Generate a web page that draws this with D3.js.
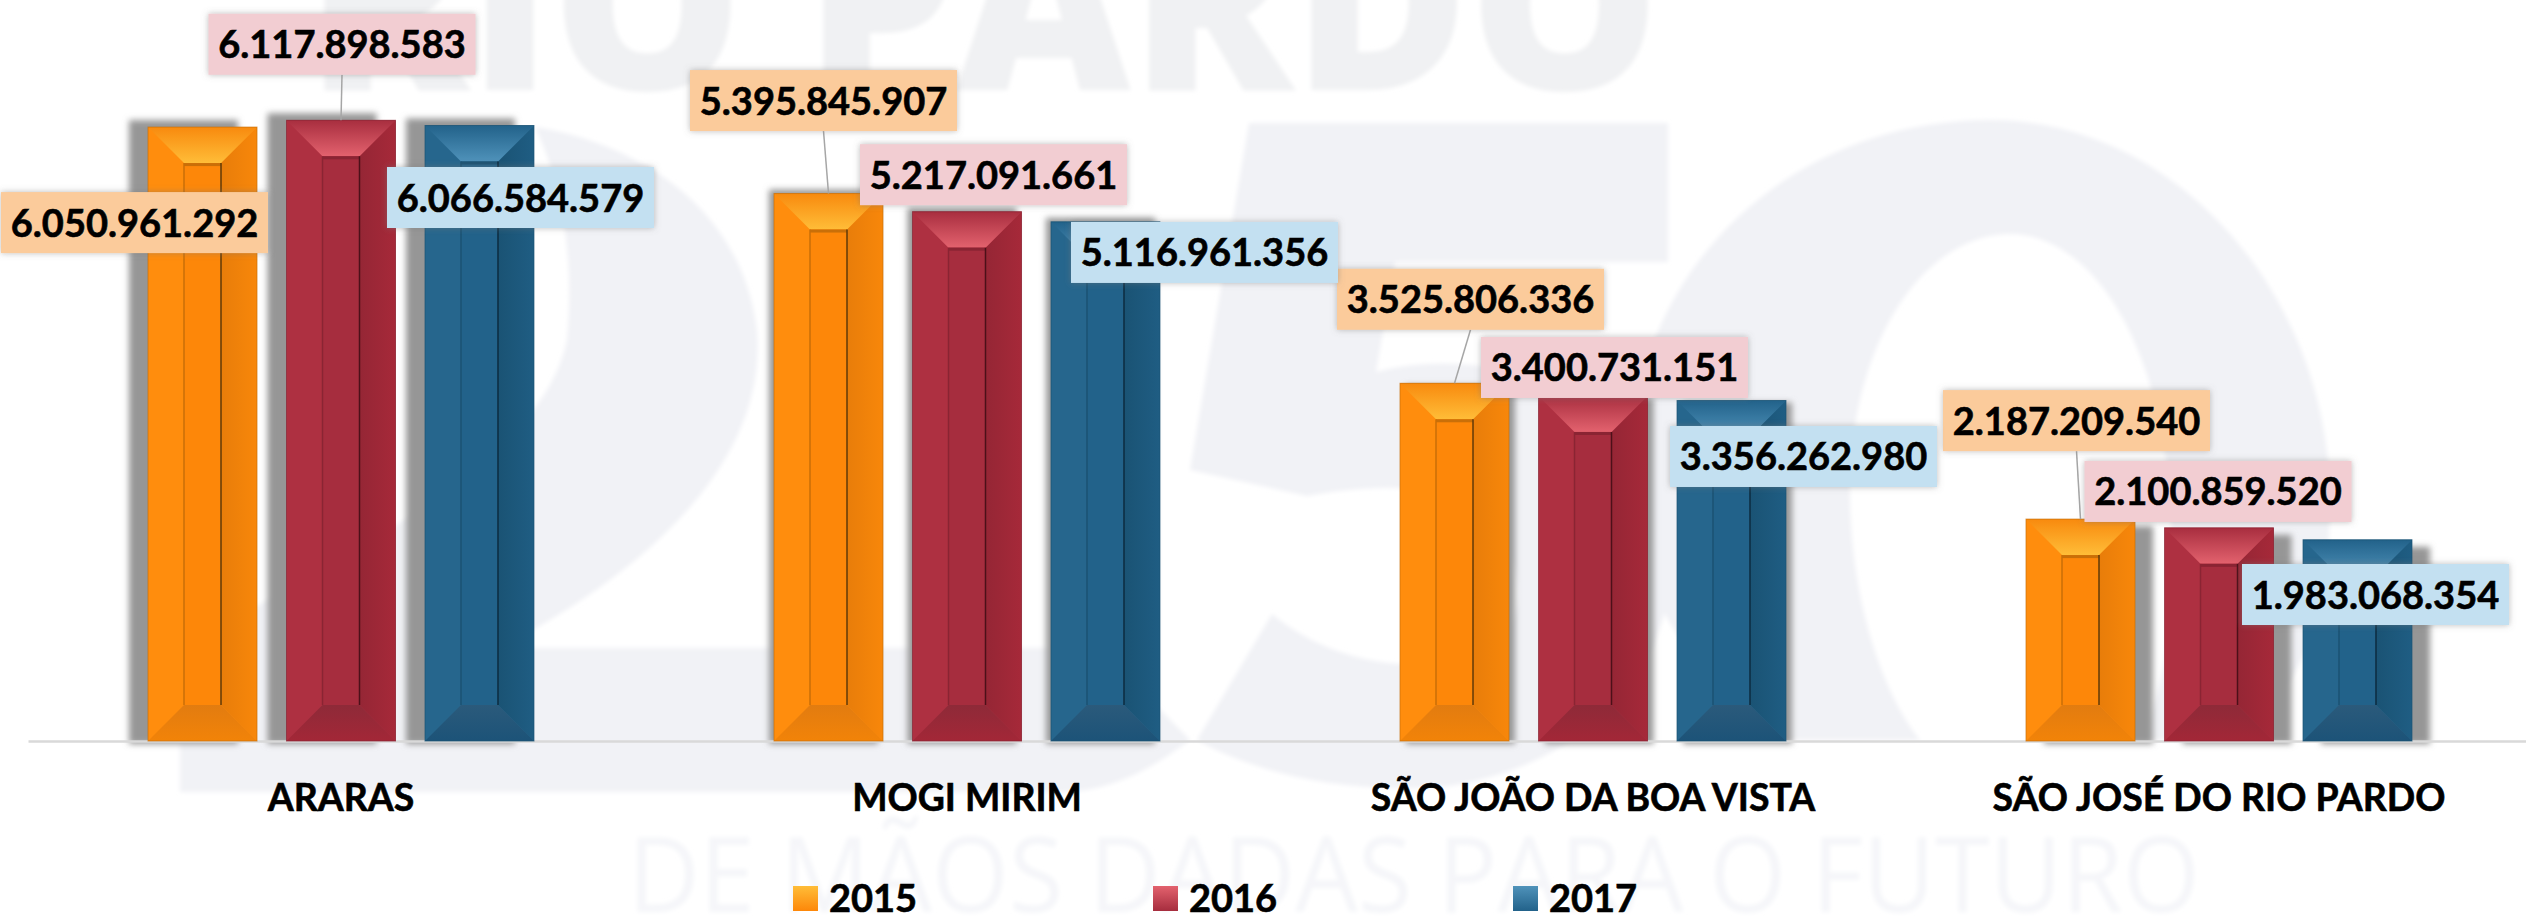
<!DOCTYPE html>
<html>
<head>
<meta charset="utf-8">
<script src="https://cdn.jsdelivr.net/npm/d3@7"></script>
<style>
    html, body { margin: 0; padding: 0; background: #fff; overflow: hidden; }
    svg { display: block; }
    text { font-family: Lato, "Open Sans", sans-serif; font-weight: 700; fill: #000; }
    .mark-text { font-family: "Open Sans", sans-serif; }
    .heavy { stroke: #000; stroke-width: 0.6px; }
</style>
</head>
<body>
<div id="chart"></div>
<script>
// values
var categories = ["ARARAS", "MOGI MIRIM", "SÃO JOÃO DA BOA VISTA", "SÃO JOSÉ DO RIO PARDO"];
var years = ["2015", "2016", "2017"];
var values2015 = [6050961292, 5395845907, 3525806336, 2187209540];
var values2016 = [6117898583, 5217091661, 3400731151, 2100859520];
var values2017 = [6066584579, 5116961356, 3356262980, 1983068354];

var width = 2526, height = 916;
var baseline = 741;
var bevel = 36;
var fontSize = 38;

// label boxes were placed by hand in the original, so these are
// nudges from the top centre of each bar: [dx, dy, has leader line]
var labelNudges = {
    "2015": [[-68, 95.5, 0], [-5, -93, 1], [16, -84, 1], [-4, -98.5, 1]],
    "2016": [[1, -76, 1], [26.5, -37, 0], [21.5, -28.5, 0], [-1, -36.4, 0]],
    "2017": [[41, 72, 0], [99, 30.6, 0], [72, 56, 0], [18, 54.7, 0]]
};

// shadow falls away from the middle of the picture
var shadowDx = [-19, -5, 6, 18];
var shadowDy = [-7, -4, 2, 7];

var colors = {
    "2015": { left: "#ff8d0d", mid: "#fd8709", rightA: "#e87d0a", rightB: "#f8870a", topA: "#f88a0e", topB: "#ffbd38", botA: "#e27c10", botB: "#f28308", edge: "#5f3a08", soft: "#c96f08", label: "#fbcb9b" },
    "2016": { left: "#ae3041", mid: "#a62d3e", rightA: "#952635", rightB: "#a62939", topA: "#a82e3f", topB: "#e3626e", botA: "#8e2a38", botB: "#a32737", edge: "#4c1019", soft: "#8a2433", label: "#f2cdd2" },
    "2017": { left: "#26668d", mid: "#22628a", rightA: "#1a5374", rightB: "#1f5d83", topA: "#22628a", topB: "#4f92ba", botA: "#2b5a7b", botB: "#1c5378", edge: "#0d2c40", soft: "#1b5273", label: "#c3e0f1" }
};

var seriesValues = { "2015": values2015, "2016": values2016, "2017": values2017 };

var svg = d3.select("#chart").append("svg")
    .attr("width", width)
    .attr("height", height);

var defs = svg.append("defs");

defs.append("filter").attr("id", "blur-shadow")
    .attr("x", "-30%").attr("y", "-10%").attr("width", "160%").attr("height", "120%")
    .append("feGaussianBlur").attr("stdDeviation", 3);

defs.append("filter").attr("id", "soft")
    .append("feGaussianBlur").attr("stdDeviation", 2);

var boxShadow = defs.append("filter").attr("id", "box-shadow")
    .attr("x", "-5%").attr("y", "-20%").attr("width", "110%").attr("height", "140%");
boxShadow.append("feDropShadow")
    .attr("dx", 0).attr("dy", 0).attr("stdDeviation", 3)
    .attr("flood-color", "#777").attr("flood-opacity", 0.5);

function addGradient(id, horizontal, a, b) {
    var g = defs.append("linearGradient").attr("id", id)
        .attr("x1", 0).attr("y1", 0)
        .attr("x2", horizontal ? 1 : 0).attr("y2", horizontal ? 0 : 1);
    g.append("stop").attr("offset", "0%").attr("stop-color", a);
    g.append("stop").attr("offset", "100%").attr("stop-color", b);
}

years.forEach(function(yr) {
    var c = colors[yr];
    addGradient("top" + yr, false, c.topA, c.topB);
    addGradient("bot" + yr, false, c.botA, c.botB);
    addGradient("right" + yr, true, c.rightA, c.rightB);
    addGradient("swatch" + yr, false, c.topB, c.mid);
});

// pale logo behind the chart
var mark = svg.append("g").attr("filter", "url(#soft)");
var markFill = "#f1f2f6";

mark.append("text").attr("class", "mark-text")
    .attr("x", 306).attr("y", 90)
    .attr("textLength", 1354).attr("lengthAdjust", "spacingAndGlyphs")
    .style("font-size", "240px").style("font-weight", 800).style("fill", "#f0f1f3")
    .text("RIO PARDO");

mark.append("text").attr("class", "mark-text")
    .attr("x", 628).attr("y", 912)
    .attr("textLength", 1572).attr("lengthAdjust", "spacingAndGlyphs")
    .style("font-size", "105px").style("font-weight", 400).style("fill", "#f5f6f9")
    .text("DE MÃOS DADAS PARA O FUTURO");

var markShapes = [
    // the 2
    "M535 127 C620 140 740 195 757 330 C768 460 650 570 500 648 L1100 648 L1190 740 C1150 770 1110 792 1060 792 L180 792 L180 650 C330 560 540 470 567 340 C575 250 560 180 535 127 Z",
    // the 5
    "M1249 123 L1668 123 L1668 262 L1395 262 L1376 372 C1500 340 1640 400 1668 520 C1690 640 1610 760 1450 786 C1340 796 1250 770 1197 740 L1272 614 C1340 670 1440 680 1500 640 C1545 590 1500 500 1420 490 C1380 485 1340 490 1307 496 L1190 470 Z",
    // the 0, drawn as a ring
    "M1990 120 C2180 120 2330 300 2330 500 C2330 640 2290 700 2230 740 L2140 740 C2170 680 2175 590 2170 500 C2160 340 2090 234 2010 234 C1930 234 1855 330 1850 480 C1848 590 1880 690 1920 740 L1780 740 C1700 680 1630 600 1630 470 C1630 270 1790 120 1990 120 Z"
];

mark.selectAll("path.shape")
    .data(markShapes)
    .enter()
    .append("path")
    .attr("class", "shape")
    .attr("d", function(d) { return d; })
    .attr("fill", markFill);

// scales
var x0 = d3.scaleBand()
    .domain(categories)
    .range([28, 2532]);

var x1 = d3.scaleBand()
    .domain(years)
    .range([0, x0.bandwidth()])
    .paddingInner(0.213)
    .paddingOuter(0.8665);

var y = d3.scaleLinear()
    .domain([0, 7000000000])
    .range([baseline, baseline - 710.2]);

var fmt = d3.formatLocale({ decimal: ",", thousands: ".", grouping: [3], currency: ["", ""] }).format(",d");

// one flat row per bar
var rows = [];
years.forEach(function(yr) {
    categories.forEach(function(cat, i) {
        rows.push({ year: yr, cat: cat, idx: i, value: seriesValues[yr][i] });
    });
});

function barX(d) { return x0(d.cat) + x1(d.year); }

// shadows go under every bar
svg.append("g").selectAll("rect")
    .data(rows)
    .enter()
    .append("rect")
    .attr("x", function(d) { return barX(d) + shadowDx[d.idx]; })
    .attr("y", function(d) { return y(d.value) + shadowDy[d.idx]; })
    .attr("width", x1.bandwidth())
    .attr("height", function(d) { return baseline + 3 - y(d.value) - shadowDy[d.idx]; })
    .attr("fill", "#969696")
    .attr("filter", "url(#blur-shadow)");

// category axis, its domain line is the baseline
var axis = svg.append("g")
    .attr("transform", "translate(0," + baseline + ")")
    .call(d3.axisBottom(x0).tickSize(0).tickPadding(43));

axis.select(".domain").attr("stroke", "#d9d9d9").attr("stroke-width", 2.5);
axis.selectAll("text")
    .attr("class", "heavy")
    .style("font-size", "37.4px")
    .style("font-family", "Lato")
    .style("font-weight", 700)
    .attr("fill", "#000");

// bevelled bars
var bars = svg.append("g").selectAll("g")
    .data(rows)
    .enter()
    .append("g")
    .attr("transform", function(d) { return "translate(" + barX(d) + "," + y(d.value) + ")"; });

bars.each(function(d) {
    var g = d3.select(this);
    var c = colors[d.year];
    var w = x1.bandwidth();
    var h = baseline - y(d.value);

    g.append("rect").attr("width", w).attr("height", h).attr("fill", c.left);

    // right face
    g.append("path")
        .attr("d", "M" + (w - bevel) + " " + bevel + "L" + w + " 0L" + w + " " + h + "L" + (w - bevel) + " " + (h - bevel) + "Z")
        .attr("fill", "url(#right" + d.year + ")");

    // top and bottom faces
    g.append("path")
        .attr("d", "M0 0L" + w + " 0L" + (w - bevel) + " " + bevel + "L" + bevel + " " + bevel + "Z")
        .attr("fill", "url(#top" + d.year + ")");
    g.append("path")
        .attr("d", "M0 " + h + "L" + bevel + " " + (h - bevel) + "L" + (w - bevel) + " " + (h - bevel) + "L" + w + " " + h + "Z")
        .attr("fill", "url(#bot" + d.year + ")");

    // middle column
    g.append("rect")
        .attr("x", bevel).attr("y", bevel)
        .attr("width", w - bevel * 2).attr("height", h - bevel * 2)
        .attr("fill", c.mid);
    g.append("rect")
        .attr("x", bevel).attr("y", bevel)
        .attr("width", w - bevel * 2).attr("height", 3)
        .attr("fill", c.soft);
    g.append("line")
        .attr("x1", bevel).attr("x2", bevel)
        .attr("y1", bevel).attr("y2", h - bevel)
        .attr("stroke", c.soft).attr("stroke-width", 1.5);
    g.append("line")
        .attr("x1", w - bevel).attr("x2", w - bevel)
        .attr("y1", bevel).attr("y2", h - bevel)
        .attr("stroke", c.edge).attr("stroke-width", 1.5);

    // thin outline
    g.append("rect")
        .attr("width", w).attr("height", h)
        .attr("fill", "none").attr("stroke", c.soft).attr("stroke-width", 1).attr("stroke-opacity", 0.7);
});

// data labels on top of everything
var boxW = 267, boxH = 61;

var labelRows = rows.map(function(d) {
    var n = labelNudges[d.year][d.idx];
    var topX = barX(d) + x1.bandwidth() / 2;
    return { d: d, topX: topX, topY: y(d.value), cx: topX + n[0], cy: y(d.value) + n[1], leader: n[2] };
});

svg.append("g").selectAll("line")
    .data(labelRows.filter(function(l) { return l.leader; }))
    .enter()
    .append("line")
    .attr("x1", function(l) { return l.cx; })
    .attr("y1", function(l) { return l.cy + boxH / 2; })
    .attr("x2", function(l) { return l.topX; })
    .attr("y2", function(l) { return l.topY; })
    .attr("stroke", "#a6a6a6")
    .attr("stroke-width", 1.5);

var labels = svg.append("g").selectAll("g")
    .data(labelRows)
    .enter()
    .append("g")
    .attr("transform", function(l) { return "translate(" + l.cx + "," + l.cy + ")"; });

labels.append("rect")
    .attr("x", -boxW / 2).attr("y", -boxH / 2)
    .attr("width", boxW).attr("height", boxH)
    .attr("fill", function(l) { return colors[l.d.year].label; })
    .attr("filter", "url(#box-shadow)");

labels.append("text")
    .attr("class", "heavy")
    .attr("text-anchor", "middle")
    .attr("y", 14)
    .style("font-size", fontSize + "px")
    .text(function(l) { return fmt(l.d.value); });

// legend
var legendX = d3.scalePoint().domain(years).range([793, 1513]);

var legend = svg.append("g").selectAll("g")
    .data(years)
    .enter()
    .append("g")
    .attr("transform", function(d) { return "translate(" + legendX(d) + ",886)"; });

legend.append("rect")
    .attr("width", 25).attr("height", 25)
    .attr("fill", function(d) { return "url(#swatch" + d + ")"; });

legend.append("text")
    .attr("class", "heavy")
    .attr("x", 36).attr("y", 26)
    .style("font-size", fontSize + "px")
    .text(function(d) { return d; });
</script>
</body>
</html>
